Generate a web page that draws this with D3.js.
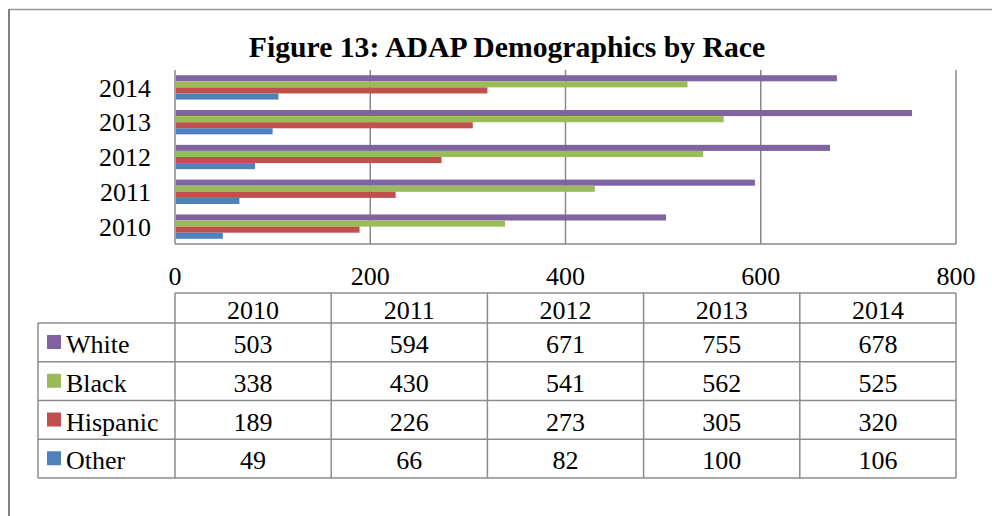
<!DOCTYPE html>
<html>
<head>
<meta charset="utf-8">
<script src="https://cdn.jsdelivr.net/npm/d3@7"></script>
<style>
  html, body { margin: 0; padding: 0; background: #fff; }
  svg { display: block; }
  text { font-family: "Liberation Serif", "Times New Roman", serif; fill: #000; }
</style>
</head>
<body>
<svg id="chart" width="992" height="516"></svg>
<script>
// ---- data ----
const years = ["2010", "2011", "2012", "2013", "2014"];
const seriesNames = ["White", "Black", "Hispanic", "Other"];
const seriesColors = ["#8064A2", "#9BBB59", "#C0504D", "#4F81BD"];
const white    = [503, 594, 671, 755, 678];
const black    = [338, 430, 541, 562, 525];
const hispanic = [189, 226, 273, 305, 320];
const other    = [49, 66, 82, 100, 106];
const xTicks = [0, 200, 400, 600, 800];
const title = "Figure 13: ADAP Demographics by Race";

const seriesValues = [white, black, hispanic, other];

const svg = d3.select("#chart");
const W = 992, H = 516;

// outer frame
svg.append("line").attr("x1", 9).attr("x2", W).attr("y1", 9.5).attr("y2", 9.5)
  .attr("stroke", "#999").attr("stroke-width", 1.5);
svg.append("line").attr("x1", 9).attr("x2", 9).attr("y1", 9).attr("y2", H)
  .attr("stroke", "#808080").attr("stroke-width", 2);

// title
svg.append("text").attr("x", 507).attr("y", 57).attr("text-anchor", "middle")
  .attr("font-size", 29.7).attr("font-weight", "bold").text(title);

// scales
const plotL = 175, plotR = 956, plotT = 70, plotB = 244;
const x = d3.scaleLinear().domain([0, 800]).range([plotL, plotR]);
const y = d3.scaleBand().domain(years.slice().reverse()).range([plotT, plotB])
  .paddingInner(0.3).paddingOuter(0.15);
const ySub = d3.scaleBand().domain(seriesNames).range([0, y.bandwidth()]);

const gridColor = "#888";

// gridlines
svg.append("g").selectAll("line").data(xTicks).join("line")
  .attr("x1", d => x(d)).attr("x2", d => x(d))
  .attr("y1", plotT).attr("y2", plotB)
  .attr("stroke", gridColor).attr("stroke-width", 1.5);
// bottom axis line
svg.append("line").attr("x1", plotL).attr("x2", plotR).attr("y1", plotB).attr("y2", plotB)
  .attr("stroke", gridColor).attr("stroke-width", 1.5);

// bars
const groups = svg.append("g").selectAll("g").data(years).join("g")
  .attr("transform", d => `translate(0,${y(d)})`);
groups.selectAll("rect")
  .data((yr, i) => seriesNames.map((s, k) => ({ s, k, v: seriesValues[k][i] })))
  .join("rect")
  .attr("x", x(0) + 1)
  .attr("y", d => ySub(d.s))
  .attr("width", d => x(d.v) - x(0) - 1)
  .attr("height", ySub.bandwidth())
  .attr("fill", d => seriesColors[d.k]);

// category labels
svg.append("g").selectAll("text").data(years).join("text")
  .attr("x", 151).attr("y", d => y(d) + y.bandwidth() / 2)
  .attr("dy", "0.35em").attr("text-anchor", "end").attr("font-size", 26)
  .text(d => d);

// x tick labels
svg.append("g").selectAll("text").data(xTicks).join("text")
  .attr("x", d => x(d)).attr("y", 285).attr("text-anchor", "middle")
  .attr("font-size", 26).text(d => d);

// ---- data table ----
const tblColor = "#8c8c8c";
const col = d3.scaleBand().domain(years).range([plotL, plotR]);
const hdrT = 293, hdrB = 323, tblB = 478, labelL = 38;
const row = d3.scaleBand().domain(seriesNames).range([hdrB, tblB]);
const tbl = svg.append("g").attr("stroke", tblColor).attr("stroke-width", 1.5);

// horizontal lines
tbl.append("line").attr("x1", plotL).attr("x2", plotR).attr("y1", hdrT).attr("y2", hdrT);
tbl.selectAll("line.h").data(seriesNames).join("line").attr("class", "h")
  .attr("x1", labelL).attr("x2", plotR)
  .attr("y1", d => row(d)).attr("y2", d => row(d));
tbl.append("line").attr("x1", labelL).attr("x2", plotR).attr("y1", tblB).attr("y2", tblB);
// vertical lines
tbl.append("line").attr("x1", labelL).attr("x2", labelL).attr("y1", hdrB).attr("y2", tblB);
tbl.selectAll("line.v").data(years).join("line").attr("class", "v")
  .attr("x1", d => col(d)).attr("x2", d => col(d)).attr("y1", hdrT).attr("y2", tblB);
tbl.append("line").attr("x1", plotR).attr("x2", plotR).attr("y1", hdrT).attr("y2", tblB);

// header text
svg.append("g").selectAll("text").data(years).join("text")
  .attr("x", d => col(d) + col.bandwidth() / 2).attr("y", 319)
  .attr("text-anchor", "middle").attr("font-size", 26).text(d => d);

// row labels with legend keys
const rows = svg.append("g").selectAll("g").data(seriesNames).join("g")
  .attr("transform", d => `translate(0,${row(d)})`);
rows.append("rect").attr("x", 47).attr("y", 12).attr("width", 14).attr("height", 14)
  .attr("fill", (d, k) => seriesColors[k]);
rows.append("text").attr("x", 66).attr("y", 30).attr("font-size", 26).text(d => d);
rows.selectAll("text.v")
  .data((s, k) => years.map((yr, i) => ({ yr, v: seriesValues[k][i] })))
  .join("text").attr("class", "v")
  .attr("x", d => col(d.yr) + col.bandwidth() / 2).attr("y", 30)
  .attr("text-anchor", "middle").attr("font-size", 26).text(d => d.v);
</script>
</body>
</html>
